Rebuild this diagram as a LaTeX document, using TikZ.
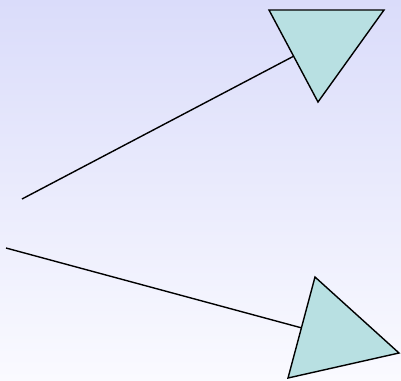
\documentclass[tikz,border=0pt]{standalone}
\begin{document}
\begin{tikzpicture}[x=1pt,y=-1pt]
\definecolor{bgtop}{RGB}{218,220,250}
\definecolor{bgbot}{RGB}{250,250,255}
\definecolor{tri}{RGB}{184,224,226}
\tikzset{trishape/.style={draw=black,fill=tri,line width=1.4pt,line join=miter},
  conn/.style={draw=black,line width=1.4pt}}
\shade[top color=bgtop,bottom color=bgbot] (0,0) rectangle (401,380);
\useasboundingbox (0,0) rectangle (401,380);
\coordinate (s1) at (22,199);
\coordinate (e1) at (294,56);
\coordinate (s2) at (6,248);
\coordinate (e2) at (302,328);
\draw[conn] (s1) -- (e1);
\draw[conn] (s2) -- (e2);
\draw[trishape] (269,10) -- (384,10) -- (318,102) -- cycle;
\draw[trishape] (315,277) -- (399,353) -- (288,378) -- cycle;
\end{tikzpicture}
\end{document}
